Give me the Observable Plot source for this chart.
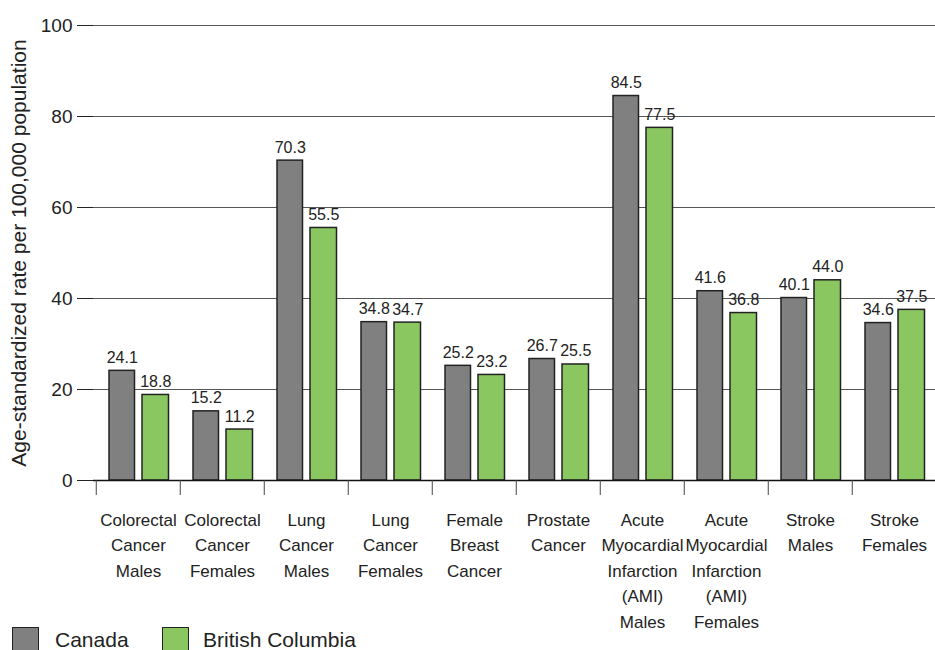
<!DOCTYPE html>
<html>
<head>
<meta charset="utf-8">
<script src="https://cdn.jsdelivr.net/npm/d3@7"></script>
<script src="https://cdn.jsdelivr.net/npm/@observablehq/plot@0.6"></script>
<style>
  html, body { margin: 0; padding: 0; background: #fff; overflow: hidden; }
  body { font-family: "Liberation Sans", Arial, sans-serif; color: #222; }
  #legend { position: relative; height: 40px; font-size: 21px; }
  .sw { position: absolute; top: 0px; width: 25px; height: 25px; border: 1.5px solid #222; }
  .lb { position: absolute; top: 0px; line-height: 25px; }
</style>
</head>
<body>
<div id="chart"></div>
<div id="legend"></div>
<script>
const categories = [
  "Colorectal\nCancer\nMales",
  "Colorectal\nCancer\nFemales",
  "Lung\nCancer\nMales",
  "Lung\nCancer\nFemales",
  "Female\nBreast\nCancer",
  "Prostate\nCancer",
  "Acute\nMyocardial\nInfarction\n(AMI)\nMales",
  "Acute\nMyocardial\nInfarction\n(AMI)\nFemales",
  "Stroke\nMales",
  "Stroke\nFemales"
];
const canada = [24.1, 15.2, 70.3, 34.8, 25.2, 26.7, 84.5, 41.6, 40.1, 34.6];
const britishColumbia = [18.8, 11.2, 55.5, 34.7, 23.2, 25.5, 77.5, 36.8, 44.0, 37.5];
const yTicks = [0, 20, 40, 60, 80, 100];
const seriesNames = ["Canada", "British Columbia"];
const seriesColors = ["#808081", "#8bc760"];

const rowsCa = categories.map((c, i) => ({cat: c, v: canada[i]}));
const rowsBc = categories.map((c, i) => ({cat: c, v: britishColumbia[i]}));

const W = 935, H = 627, ML = 93, MR = -3, MT = 25, MB = H - 480;
const bw = (W - ML - MR) / categories.length;

const chart = Plot.plot({
  width: W,
  height: H,
  marginLeft: ML,
  marginRight: MR,
  marginTop: MT,
  marginBottom: MB,
  style: {fontFamily: "'Liberation Sans', Arial, sans-serif", fontSize: "17px", color: "#222", background: "#fff", overflow: "visible"},
  x: {domain: categories, padding: 0},
  y: {domain: [0, 100]},
  marks: [
    Plot.gridY(yTicks, {stroke: "#555", strokeOpacity: 1, strokeWidth: 1}),
    Plot.axisY(yTicks, {tickSize: 16, tickPadding: 5, fontSize: 19, stroke: "#222", label: null}),
    Plot.axisY({ticks: [], tickSize: 0, text: null, label: "Age-standardized rate per 100,000 population", labelAnchor: "center", labelArrow: "none", labelOffset: 82, fontSize: 21}),
    Plot.barY(rowsCa, {x: "cat", y: "v", fill: seriesColors[0], stroke: "#222", strokeWidth: 1.5, insetLeft: 13, insetRight: bw - 39}),
    Plot.barY(rowsBc, {x: "cat", y: "v", fill: seriesColors[1], stroke: "#222", strokeWidth: 1.5, insetLeft: 46, insetRight: bw - 73}),
    Plot.text(rowsCa, {x: "cat", y: "v", text: d => d.v.toFixed(1), dx: 26 - bw / 2, dy: -8, lineAnchor: "bottom", fontSize: 16, fill: "#222"}),
    Plot.text(rowsBc, {x: "cat", y: "v", text: d => d.v.toFixed(1), dx: 59.5 - bw / 2, dy: -8, lineAnchor: "bottom", fontSize: 16, fill: "#222"}),
    Plot.ruleY([0], {stroke: "#111", strokeWidth: 1.5}),
    Plot.axisX({tickSize: 15, text: null, dx: -bw / 2, stroke: "#444", label: null}),
    Plot.axisX({tickSize: 0, tickPadding: 27, lineHeight: 1.5, fontSize: 17, fill: "#222", label: null})
  ]
});
document.getElementById("chart").appendChild(chart);

const legend = document.getElementById("legend");
const swX = [12, 162], lbX = [55, 203];
seriesNames.forEach((n, i) => {
  const s = document.createElement("div");
  s.className = "sw";
  s.style.left = swX[i] + "px";
  s.style.background = seriesColors[i];
  legend.appendChild(s);
  const l = document.createElement("div");
  l.className = "lb";
  l.style.left = lbX[i] + "px";
  l.textContent = n;
  legend.appendChild(l);
});
</script>
</body>
</html>
